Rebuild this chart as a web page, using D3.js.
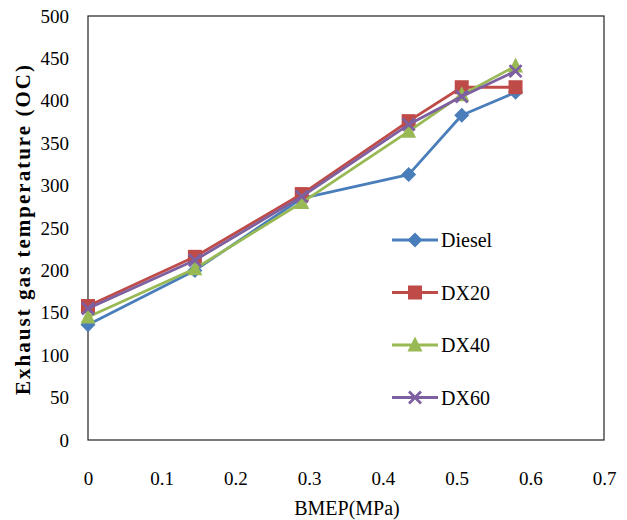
<!DOCTYPE html>
<html>
<head>
<meta charset="utf-8">
<script src="https://cdn.jsdelivr.net/npm/d3@7"></script>
<style>
  html, body { margin: 0; padding: 0; background: #fff; }
  svg { display: block; }
  svg text { font-family: "Liberation Serif", "Times New Roman", serif; fill: #000; }
</style>
</head>
<body>
<svg id="chart" width="627" height="520"></svg>
<script>
// BMEP load points (MPa)
const bmep = [0, 0.145, 0.29, 0.435, 0.507, 0.58];

// Exhaust gas temperature per fuel blend
const diesel = [136, 200, 285, 313, 383, 410];
const dx20   = [158, 216, 290, 376, 416, 416];
const dx40   = [145, 202, 280, 364, 407, 441];
const dx60   = [155, 212, 287, 372, 405, 435];

const seriesNames = ["Diesel", "DX20", "DX40", "DX60"];
const xTicks = [0, 0.1, 0.2, 0.3, 0.4, 0.5, 0.6, 0.7];
const yTicks = [0, 50, 100, 150, 200, 250, 300, 350, 400, 450, 500];

const series = [
  { name: seriesNames[0], values: diesel, color: "#4A7EBB", marker: "diamond" },
  { name: seriesNames[1], values: dx20,   color: "#BE4B48", marker: "square" },
  { name: seriesNames[2], values: dx40,   color: "#98B954", marker: "triangle" },
  { name: seriesNames[3], values: dx60,   color: "#7D60A0", marker: "cross" }
];

const serif = '"Liberation Serif", "Times New Roman", serif';
const svg = d3.select("#chart");
const plot = { left: 88, right: 604, top: 16, bottom: 440 };

const x = d3.scaleLinear().domain([0, 0.7]).range([plot.left, plot.right]);
const y = d3.scaleLinear().domain([0, 500]).range([plot.bottom, plot.top]);

// plot area frame
svg.append("rect")
  .attr("x", plot.left).attr("y", plot.top)
  .attr("width", plot.right - plot.left).attr("height", plot.bottom - plot.top)
  .attr("fill", "none").attr("stroke", "#222").attr("stroke-width", 1.2);

// axes: labels only, no tick marks or domain line
const yAxis = svg.append("g")
  .attr("transform", `translate(${plot.left},0)`)
  .call(d3.axisLeft(y).tickValues(yTicks).tickSize(0).tickPadding(19).tickFormat(d3.format("d")));
yAxis.attr("font-family", serif);
yAxis.select(".domain").remove();
yAxis.selectAll("text").style("font-size", "19px").style("font-family", serif);

const xAxis = svg.append("g")
  .attr("transform", `translate(0,${plot.bottom})`)
  .call(d3.axisBottom(x).tickValues(xTicks).tickSize(0).tickPadding(32)
    .tickFormat(d => d === 0 ? "0" : d3.format(".1f")(d)));
xAxis.attr("font-family", serif);
xAxis.select(".domain").remove();
xAxis.selectAll("text").style("font-size", "19px").style("font-family", serif);

// axis titles
svg.append("text")
  .attr("transform", `translate(30,${(plot.top + plot.bottom) / 2 + 2}) rotate(-90)`)
  .attr("text-anchor", "middle")
  .attr("textLength", 330).attr("lengthAdjust", "spacing")
  .style("font-family", serif)
  .style("font-size", "21px").style("font-weight", "bold")
  .text("Exhaust gas temperature (OC)");

svg.append("text")
  .attr("x", (plot.left + plot.right) / 2 + 1).attr("y", 515)
  .attr("text-anchor", "middle")
  .style("font-family", serif)
  .style("font-size", "20px")
  .text("BMEP(MPa)");

function drawMarker(g, type, color) {
  if (type === "diamond") {
    g.append("path").attr("d", "M0,-7.5L7.5,0L0,7.5L-7.5,0Z").attr("fill", color);
  } else if (type === "square") {
    g.append("rect").attr("x", -7).attr("y", -7).attr("width", 14).attr("height", 14).attr("fill", color);
  } else if (type === "triangle") {
    g.append("path").attr("d", "M0,-8.5L7.5,6.5L-7.5,6.5Z").attr("fill", color);
  } else {
    g.append("path").attr("d", "M-6,-6L6,6M-6,6L6,-6").attr("stroke", color).attr("stroke-width", 2.8).attr("fill", "none");
  }
}

const line = d3.line().x((d, i) => x(bmep[i])).y(d => y(d));

series.forEach(s => {
  svg.append("path")
    .attr("d", line(s.values))
    .attr("fill", "none").attr("stroke", s.color).attr("stroke-width", 2.8)
    .attr("stroke-linejoin", "round");
  s.values.forEach((v, i) => {
    const g = svg.append("g").attr("transform", `translate(${x(bmep[i])},${y(v)})`);
    drawMarker(g, s.marker, s.color);
  });
});

// legend
const legend = svg.append("g").attr("transform", "translate(392,240)");
series.forEach((s, i) => {
  const row = legend.append("g").attr("transform", `translate(0,${i * 52.5})`);
  row.append("line").attr("x1", 0).attr("x2", 46).attr("y1", 0).attr("y2", 0)
    .attr("stroke", s.color).attr("stroke-width", 2.8);
  drawMarker(row.append("g").attr("transform", "translate(23,0)"), s.marker, s.color);
  row.append("text").attr("x", 49).attr("y", 7)
    .style("font-family", serif).style("font-size", "20px").text(s.name);
});
</script>
</body>
</html>
